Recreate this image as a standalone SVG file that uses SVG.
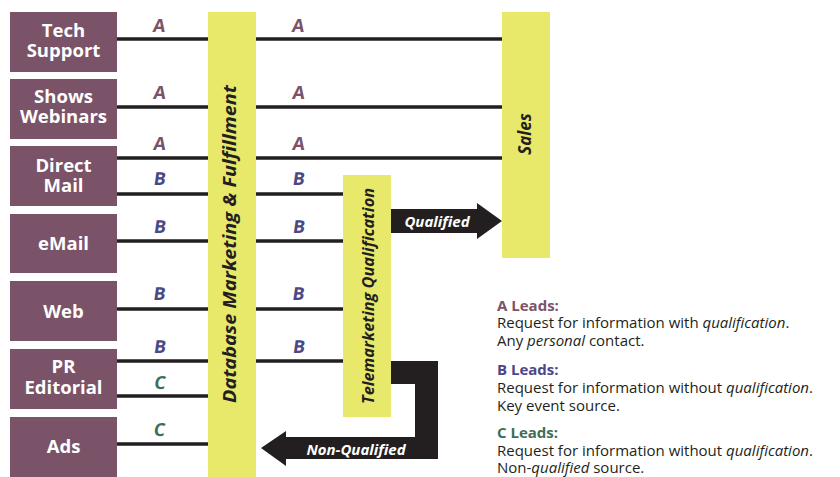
<svg xmlns="http://www.w3.org/2000/svg" width="840" height="477" viewBox="0 0 840 477">
<style>
.box{fill:#7b5368}
.lbl{font-family:"Open Sans","Liberation Sans",sans-serif;font-weight:bold;font-size:18.5px;fill:#fff;text-anchor:middle}
.bar{fill:#e8e86b}
.vt{font-family:"Open Sans","Liberation Sans",sans-serif;font-weight:bold;font-style:italic;fill:#231f20;text-anchor:middle}
.ln{stroke:#231f20;stroke-width:3.5;fill:none}
.let{font-family:"Open Sans","Liberation Sans",sans-serif;font-weight:bold;font-size:18px;text-anchor:middle}
.a{fill:#7b5368}.b{fill:#4a4886}.c{fill:#3e6f58}
.arr{fill:#231f20}
.at{font-family:"Open Sans","Liberation Sans",sans-serif;font-weight:bold;font-style:italic;font-size:15px;fill:#fff;text-anchor:middle}
.lg{font-family:"Open Sans","Liberation Sans",sans-serif;font-size:15px;fill:#231f20}
.lh{font-family:"Open Sans","Liberation Sans",sans-serif;font-size:15px;font-weight:bold}
</style>
<g id="connectors">
<path class="ln" d="M117 39H208M256 39H502M117 107H208M256 107H502M117 158H208M256 158H502M117 194H208M256 194H343M117 241H208M256 241H343M117 309H208M256 309H343M117 361H208M256 361H343M117 396H208M117 444H208"/>
<g transform="skewX(-8)">
<text class="let a" x="163" y="32">A</text><text class="let a" x="302" y="32">A</text>
<text class="let a" x="173" y="99">A</text><text class="let a" x="312" y="99">A</text>
<text class="let a" x="180" y="150">A</text><text class="let a" x="319" y="150">A</text>
<text class="let b" x="185" y="185">B</text><text class="let b" x="324" y="185">B</text>
<text class="let b" x="192" y="233">B</text><text class="let b" x="331" y="233">B</text>
<text class="let b" x="201" y="300">B</text><text class="let b" x="340" y="300">B</text>
<text class="let b" x="209" y="353">B</text><text class="let b" x="348" y="353">B</text>
<text class="let c" x="214" y="389">C</text>
<text class="let c" x="220" y="436">C</text>
</g>
<g id="qualified">
<polygon class="arr" points="391,209 477,209 477,203 502,221 477,239 477,233 391,233"/>
<text class="at" x="437" y="227">Qualified</text>
</g>
<g id="non-qualified">
<polygon class="arr" points="391,361 438,361 438,459 286,459 286,466 261,448 286,431 286,437 415,437 415,384 391,384"/>
<text class="at" x="356" y="455">Non-Qualified</text>
</g>
</g>
<g id="tech-support"><rect class="box" x="10" y="12" width="107" height="60"/><text class="lbl" x="63.5" y="37">Tech</text><text class="lbl" x="63.5" y="57">Support</text></g>
<g id="shows-webinars"><rect class="box" x="10" y="79" width="107" height="60"/><text class="lbl" x="63.5" y="103">Shows</text><text class="lbl" x="63.5" y="123">Webinars</text></g>
<g id="direct-mail"><rect class="box" x="10" y="146" width="107" height="60"/><text class="lbl" x="63.5" y="172">Direct</text><text class="lbl" x="63.5" y="192">Mail</text></g>
<g id="email"><rect class="box" x="10" y="214" width="107" height="59"/><text class="lbl" x="63.5" y="250">eMail</text></g>
<g id="web"><rect class="box" x="10" y="281" width="107" height="60"/><text class="lbl" x="63.5" y="318">Web</text></g>
<g id="pr-editorial"><rect class="box" x="10" y="349" width="107" height="60"/><text class="lbl" x="63.5" y="373">PR</text><text class="lbl" x="63.5" y="394">Editorial</text></g>
<g id="ads"><rect class="box" x="10" y="417" width="107" height="60"/><text class="lbl" x="63.5" y="453">Ads</text></g>
<g id="database"><rect class="bar" x="208" y="12" width="48" height="465"/><text class="vt" font-size="18" textLength="318" lengthAdjust="spacingAndGlyphs" transform="translate(236,244) rotate(-90)">Database Marketing &amp; Fulfillment</text></g>
<g id="sales"><rect class="bar" x="502" y="12" width="48" height="246"/><text class="vt" font-size="17" transform="translate(531,134) rotate(-90)">Sales</text></g>
<g id="telemarketing"><rect class="bar" x="343" y="175" width="48" height="242"/><text class="vt" font-size="16" textLength="216" lengthAdjust="spacingAndGlyphs" transform="translate(374,296) rotate(-90)">Telemarketing Qualification</text></g>
<g id="legend">
<text class="lh a" x="497" y="311">A Leads:</text>
<text class="lg" x="497" y="328">Request for information with <tspan font-style="italic">qualification</tspan>.</text>
<text class="lg" x="497" y="346">Any <tspan font-style="italic">personal</tspan> contact.</text>
<text class="lh b" x="497" y="375">B Leads:</text>
<text class="lg" x="497" y="393">Request for information without <tspan font-style="italic">qualification</tspan>.</text>
<text class="lg" x="497" y="411">Key event source.</text>
<text class="lh c" x="497" y="438">C Leads:</text>
<text class="lg" x="497" y="456">Request for information without <tspan font-style="italic">qualification</tspan>.</text>
<text class="lg" x="497" y="473">Non-<tspan font-style="italic">qualified</tspan> source.</text>
</g>
</svg>
